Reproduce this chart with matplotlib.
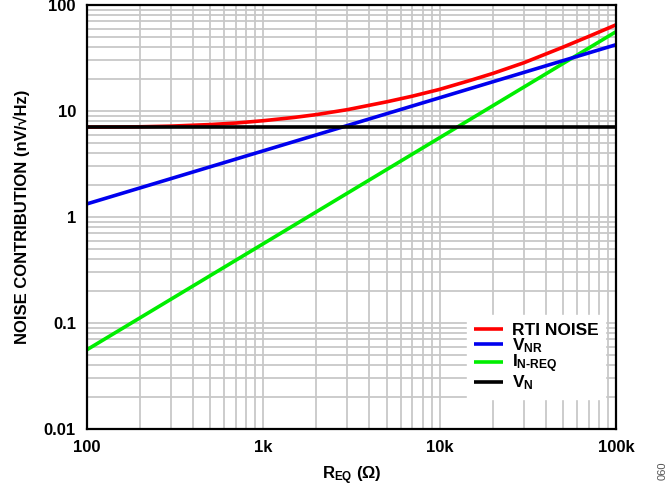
import matplotlib
matplotlib.use("Agg")
import matplotlib.pyplot as plt
from matplotlib.ticker import LogLocator, FixedLocator, NullFormatter

plt.rcParams['font.family'] = ['Liberation Sans', 'DejaVu Sans']
plt.rcParams['font.weight'] = 'bold'
plt.rcParams['mathtext.fontset'] = 'custom'
plt.rcParams['mathtext.rm'] = 'Liberation Sans:bold'
plt.rcParams['mathtext.bf'] = 'Liberation Sans:bold'
plt.rcParams['mathtext.it'] = 'Liberation Sans:bold'
plt.rcParams['mathtext.default'] = 'bf'

# Data
r_req = [100, 150, 200, 300, 500, 700, 1000, 1500, 2000, 3000, 5000, 7000,
         10000, 15000, 20000, 30000, 50000, 70000, 100000]
rti_noise = [7.05, 7.07, 7.1, 7.2, 7.45, 7.7, 8.1, 8.7, 9.25, 10.3, 12.2, 13.8,
             16.0, 19.5, 22.6, 28.5, 40.0, 50.5, 65.0]
r_lin = [100, 100000]
v_nr = [1.33, 42.2]
i_n_req = [0.056, 56.0]
v_n = [7.1, 7.1]

x_ticks = [100, 1000, 10000, 100000]
x_labels = ['100', '1k', '10k', '100k']
y_ticks = [0.01, 0.1, 1, 10, 100]
y_labels = ['0.01', '0.1', '1', '10', '100']

fig = plt.figure(figsize=(6.7, 4.87), dpi=100)
ax = fig.add_axes([87/670, 1-429/487, (616-87)/670, (429-5)/487])

ax.set_xscale('log')
ax.set_yscale('log')
ax.set_xlim(100, 100000)
ax.set_ylim(0.01, 100)

grid_c = '#c8c8c8'
ax.xaxis.set_major_locator(FixedLocator(x_ticks))
ax.yaxis.set_major_locator(FixedLocator(y_ticks))
ax.xaxis.set_minor_locator(LogLocator(base=10, subs=range(2, 10), numticks=20))
ax.yaxis.set_minor_locator(LogLocator(base=10, subs=range(2, 10), numticks=20))
ax.xaxis.set_minor_formatter(NullFormatter())
ax.yaxis.set_minor_formatter(NullFormatter())
ax.set_xticklabels(x_labels)
ax.set_yticklabels(y_labels)
ax.grid(True, which='both', color=grid_c, lw=1.3)
ax.set_axisbelow(True)
ax.tick_params(which='both', length=0, labelsize=12, pad=8)
for lab in ax.get_xticklabels() + ax.get_yticklabels():
    lab.set_fontweight('bold')

for s in ax.spines.values():
    s.set_linewidth(1.6)
    s.set_color('black')

ax.plot(r_lin, i_n_req, color='#00ee00', lw=2.6, label=r'I$_{N\text{-}REQ}$', solid_capstyle='butt')
ax.plot(r_lin, v_nr, color='#0000ee', lw=2.6, label=r'V$_{NR}$', solid_capstyle='butt')
ax.plot(r_req, rti_noise, color='#ff0000', lw=2.6, label='RTI NOISE', solid_capstyle='butt')
ax.plot(r_lin, v_n, color='black', lw=2.6, label=r'V$_N$', solid_capstyle='butt')

handles, labels = ax.get_legend_handles_labels()
order = [2, 1, 0, 3]
leg = ax.legend([handles[i] for i in order], [labels[i] for i in order],
                loc='lower right', bbox_to_anchor=(0.98, 0.07), borderaxespad=0,
                frameon=True, fancybox=False, edgecolor='white', framealpha=1,
                prop={'weight': 'bold', 'size': 12.5}, handlelength=1.7,
                labelspacing=-0.1, handletextpad=0.5, borderpad=0.4)

ax.set_ylabel('NOISE CONTRIBUTION (nV/√Hz)', fontsize=12, fontweight='bold', labelpad=10)
ax.set_xlabel(r'R$_{EQ}$ ($\Omega$)', fontsize=12, fontweight='bold', labelpad=7)

fig.text(663/670, 1-471/487, '060', rotation=90, fontsize=8, color='#555555',
         ha='center', va='center', fontweight='normal')

fig.savefig('out.png', dpi=100)
